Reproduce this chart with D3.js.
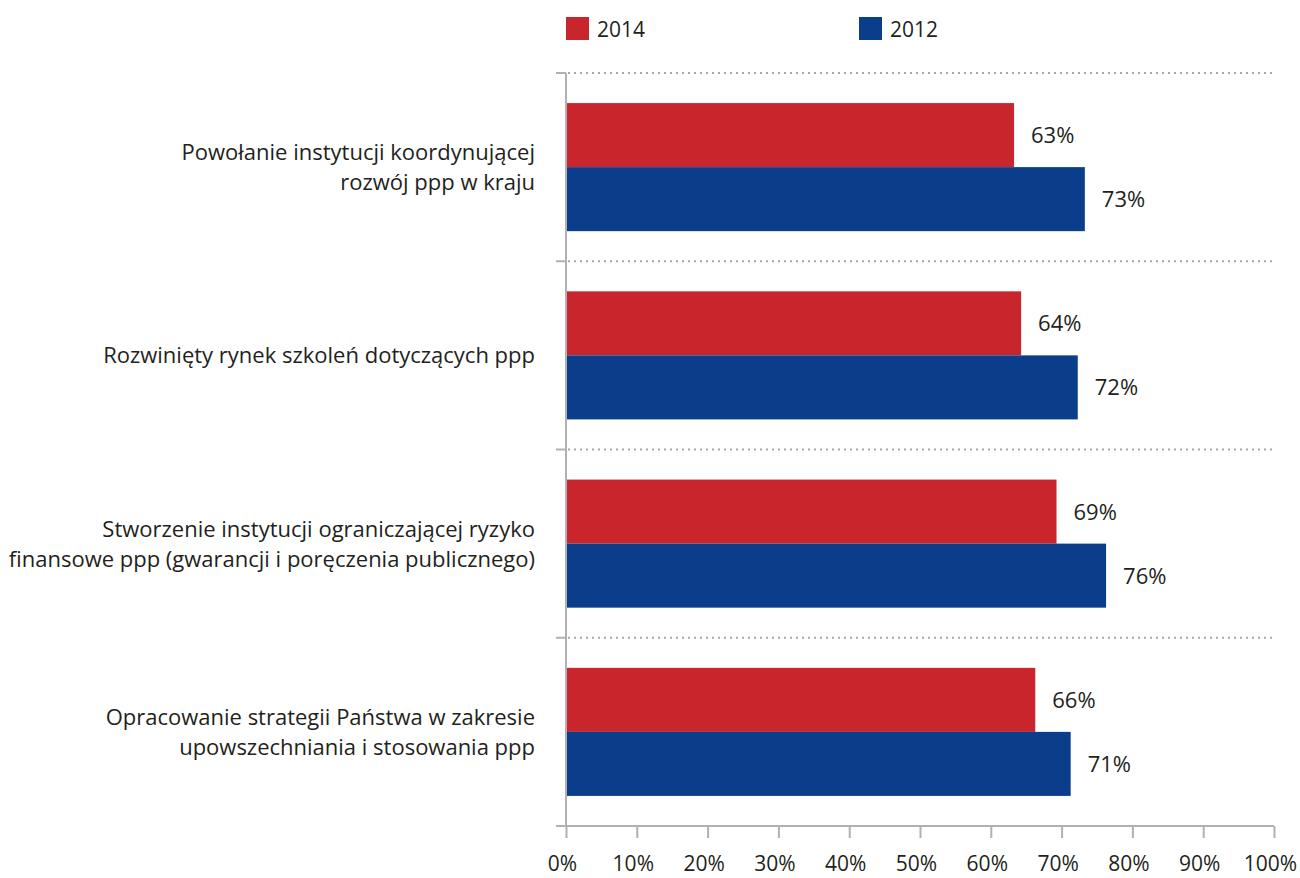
<!DOCTYPE html>
<html>
<head>
<meta charset="utf-8">
<script src="https://cdn.jsdelivr.net/npm/d3@7"></script>
<style>
  html, body { margin: 0; padding: 0; background: #fff; }
  svg { display: block; }
  text { font-family: "Open Sans", "Noto Sans", sans-serif; fill: #231f20; }
</style>
</head>
<body>
<svg id="chart" width="1300" height="878"></svg>
<script>
// Categories (each may wrap onto two lines)
const categories = [
  ["Powołanie instytucji koordynującej", "rozwój ppp w kraju"],
  ["Rozwinięty rynek szkoleń dotyczących ppp"],
  ["Stworzenie instytucji ograniczającej ryzyko", "finansowe ppp (gwarancji i poręczenia publicznego)"],
  ["Opracowanie strategii Państwa w zakresie", "upowszechniania i stosowania ppp"]
];
const seriesNames = ["2014", "2012"];
const values2014 = [63, 64, 69, 66];
const values2012 = [73, 72, 76, 71];
const xTicks = [0, 10, 20, 30, 40, 50, 60, 70, 80, 90, 100];
const colors = ["#c9252c", "#0a3d8a"];

const svg = d3.select("#chart");
const plotLeft = 566, plotRight = 1274, plotTop = 73, plotBottom = 826;

const x = d3.scaleLinear().domain([0, 100]).range([plotLeft, plotRight]);
const y = d3.scaleBand().domain(d3.range(categories.length)).range([plotTop, plotBottom]);
const inner = d3.scaleBand().domain([0, 1]).range([0, y.bandwidth()]).paddingOuter(0.47).paddingInner(0);

const series = [values2014, values2012];

// dotted gridlines at category boundaries
const bounds = d3.range(categories.length).map(i => y(i));
svg.append("g").selectAll("line").data(bounds).join("line")
  .attr("x1", plotLeft + 2).attr("x2", plotRight + 1)
  .attr("y1", d => d).attr("y2", d => d)
  .attr("stroke", "#a7a7aa").attr("stroke-width", 2)
  .attr("stroke-dasharray", "2,4");

// bars and value labels
series.forEach((vals, s) => {
  svg.append("g").selectAll("rect").data(vals).join("rect")
    .attr("x", x(0) + 1)
    .attr("y", (d, i) => y(i) + inner(s))
    .attr("width", d => x(d) - x(0) + 1)
    .attr("height", inner.bandwidth())
    .attr("fill", colors[s]);
  svg.append("g").selectAll("text").data(vals).join("text")
    .attr("x", d => x(d) + 19)
    .attr("y", (d, i) => y(i) + inner(s) + inner.bandwidth() / 2)
    .attr("dy", "0.36em")
    .attr("font-size", 22)
    .text(d => d + "%");
});

// y axis line and boundary ticks
const axisColor = "#b1b1b4";
svg.append("line").attr("x1", plotLeft).attr("x2", plotLeft).attr("y1", plotTop).attr("y2", plotBottom)
  .attr("stroke", axisColor).attr("stroke-width", 2);
svg.append("g").selectAll("line").data(bounds.concat([plotBottom])).join("line")
  .attr("x1", plotLeft - 10).attr("x2", plotLeft).attr("y1", d => d).attr("y2", d => d)
  .attr("stroke", axisColor).attr("stroke-width", 2);

// x axis
const xAxis = d3.axisBottom(x).tickValues(xTicks).tickFormat(d => d + "%").tickSize(12).tickPadding(18);
const gx = svg.append("g").attr("transform", `translate(0,${plotBottom})`).call(xAxis);
gx.attr("font-family", null).attr("font-size", null);
gx.select(".domain").remove();
gx.selectAll(".tick line").attr("stroke", axisColor).attr("stroke-width", 2);
gx.selectAll(".tick text").attr("font-size", 21).attr("dx", -4).style("fill", "#231f20");
svg.append("line").attr("x1", plotLeft - 10).attr("x2", plotRight).attr("y1", plotBottom).attr("y2", plotBottom)
  .attr("stroke", axisColor).attr("stroke-width", 2);

// category labels
categories.forEach((lines, i) => {
  const cy = y(i) + y.bandwidth() / 2;
  const lh = 30;
  const t = svg.append("text").attr("text-anchor", "end").attr("font-size", 22);
  lines.forEach((ln, k) => {
    t.append("tspan").attr("x", 535)
      .attr("y", cy + (k - (lines.length - 1) / 2) * lh)
      .attr("dy", "0.36em").text(ln);
  });
});

// legend
const legendX = [566, 859];
seriesNames.forEach((name, s) => {
  svg.append("rect").attr("x", legendX[s]).attr("y", 17).attr("width", 23).attr("height", 23).attr("fill", colors[s]);
  svg.append("text").attr("x", legendX[s] + 31).attr("y", 29).attr("dy", "0.36em")
    .attr("font-size", 21).text(name);
});
</script>
</body>
</html>
